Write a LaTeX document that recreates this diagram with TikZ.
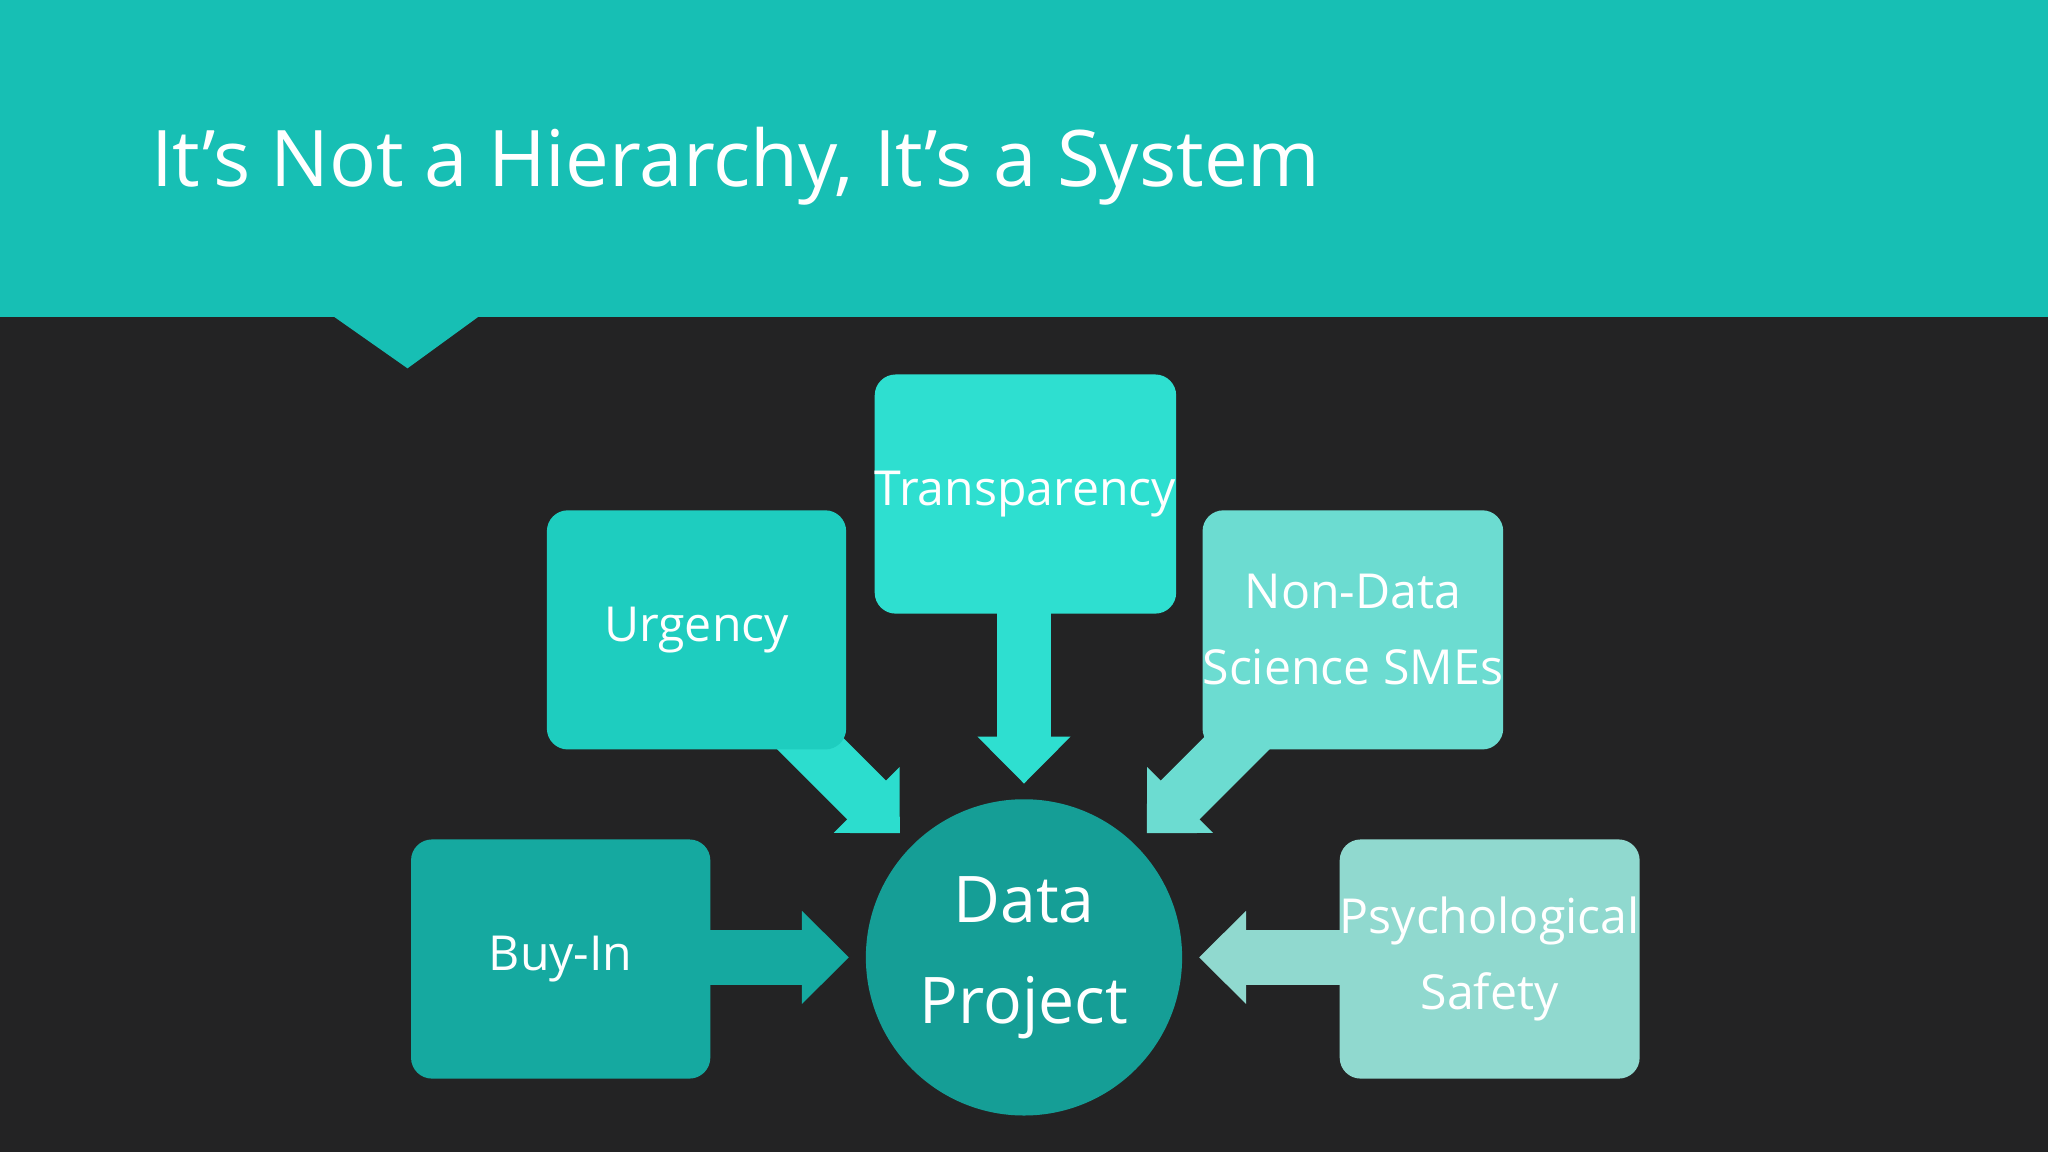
\documentclass[tikz,border=0pt]{standalone}
\usepackage{fontspec}
\setmainfont{Open Sans}
\usetikzlibrary{arrows.meta,calc}
\definecolor{bgdark}{HTML}{232324}
\definecolor{band}{HTML}{17BFB4}
\definecolor{ctrans}{HTML}{2EDFD0}
\definecolor{curg}{HTML}{1ECDBF}
\definecolor{cnon}{HTML}{6CDCD1}
\definecolor{cbuy}{HTML}{15A9A0}
\definecolor{cpsy}{HTML}{90D9CF}
\definecolor{cdata}{HTML}{159E96}
\tikzset{
  box/.style={rounded corners=0.16cm, minimum width=2.29cm, minimum height=1.83cm, text=white, font=\fontsize{10.5}{16.5}\selectfont, align=center, inner sep=0pt},
  blk/.style={line width=0.42cm, line cap=butt, -{Triangle[length=0.36cm,width=0.69cm]}}
}
\begin{document}
\begin{tikzpicture}[x=0.01cm,y=-0.01cm]
\fill[bgdark] (0,0) rectangle (1568,882);
\fill[band] (0,0) rectangle (1568,243);
\fill[band] (255,242) -- (312,282) -- (367,242) -- cycle;
\node[anchor=base west, text=white, font=\fontsize{17}{20}\selectfont, inner sep=0pt] (title) at (115,143) {It’s Not a Hierarchy, It’s a System};
\node[circle, fill=cdata, minimum size=2.42cm, inner sep=0pt, text=white, align=center, font=\fontsize{14}{22}\selectfont] (data) at (784,733) {Data\\Project};
\coordinate (tU) at (689,638);
\coordinate (sU) at (599,548);
\coordinate (tN) at (878,638);
\coordinate (sN) at (968,548);
\draw[blk, ctrans] (784,450) -- (784,600);
\draw[blk, ctrans!90!curg] (sU) -- (tU);
\draw[blk, cnon] (sN) -- (tN);
\draw[blk, cbuy] (520,733) -- (650,733);
\draw[blk, cpsy] (1050,733) -- (918,733);
\node[box, fill=ctrans, anchor=north west] (trans) at (669,286) {Transparency};
\node[box, fill=curg, anchor=north west] (urg) at (418,390) {Urgency};
\node[box, fill=cnon, anchor=north west] (non) at (920,390) {Non-Data\\Science SMEs};
\node[box, fill=cbuy, anchor=north west] (buy) at (314,642) {Buy-In};
\node[box, fill=cpsy, anchor=north west] (psy) at (1025,642) {Psychological\\Safety};
\end{tikzpicture}
\end{document}
